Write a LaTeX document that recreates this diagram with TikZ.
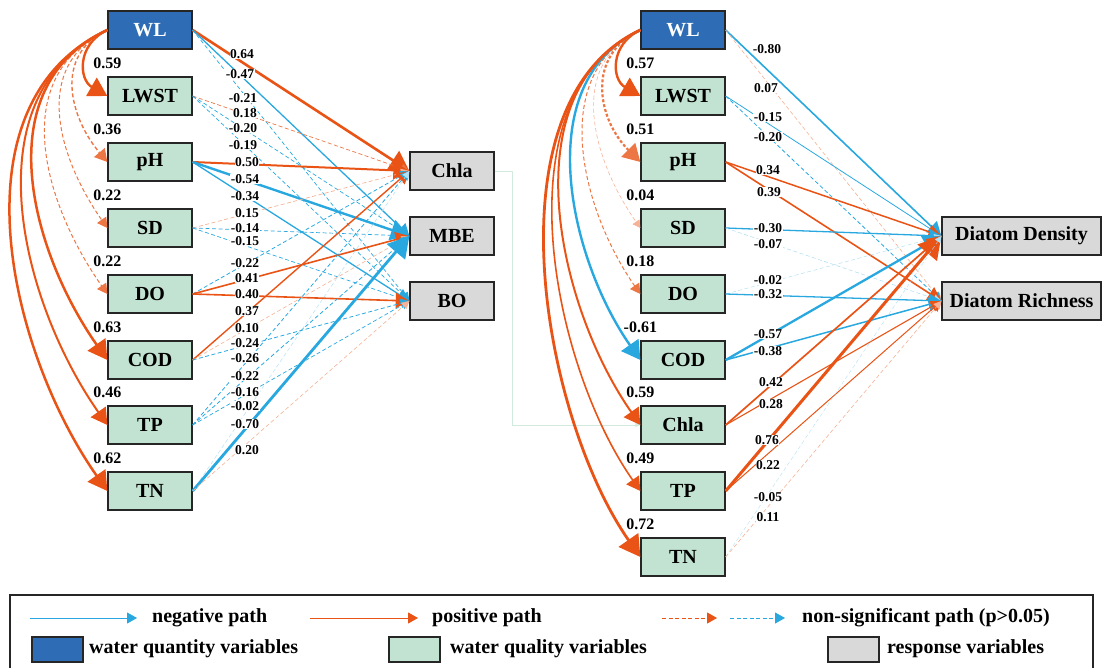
\documentclass[tikz,border=0pt]{standalone}
\usepackage{fontspec}
\setmainfont{Liberation Serif}
\usetikzlibrary{arrows.meta,positioning}
\definecolor{negblue}{RGB}{41,168,224}
\definecolor{posorange}{RGB}{233,84,22}
\definecolor{qtyblue}{RGB}{46,109,181}
\definecolor{qualgreen}{RGB}{194,227,209}
\definecolor{respgray}{RGB}{217,217,217}
\tikzset{
	var/.style={draw=black!85, line width=1.3pt, minimum width=84pt, minimum height=38pt, inner sep=0pt, font=\fontsize{20}{24}\selectfont\bfseries},
	qty/.style={var, fill=qtyblue, text=white},
	qual/.style={var, fill=qualgreen},
	resp/.style={var, fill=respgray},
	negpath/.style={draw=negblue, line width=#1, -{Triangle[length=4pt 6, width=4pt 7]}},
	pospath/.style={draw=posorange, line width=#1, -{Triangle[length=4pt 6, width=4pt 7]}},
	nsneg/.style={negpath=#1, dash pattern=on 4pt off 2.5pt},
	nspos/.style={pospath=#1, draw=posorange!80, dash pattern=on 4pt off 2.5pt},
	nsnegl/.style={nsneg=#1, draw=negblue!35},
	nsposl/.style={nspos=#1, draw=posorange!45},
	coef/.style={fill=white, inner sep=0.6pt, font=\fontsize{13.5}{14}\selectfont\bfseries},
	ccoef/.style={inner sep=0pt, font=\fontsize{16}{18}\selectfont\bfseries},
	legtext/.style={anchor=west, inner sep=0pt, font=\fontsize{20}{24}\selectfont\bfseries},
	legbox/.style={draw=black!85, line width=1.3pt, minimum width=51pt, minimum height=25pt}
}

\begin{document}
\begin{tikzpicture}[x=1pt, y=1pt]
	\useasboundingbox (0,0) rectangle (1103,-667);

	% left model
	\node[qty] (lWL) at (150,-30) {WL};
	\foreach \vname/\vy in {LWST/96,pH/162,SD/228,DO/294,COD/360,TP/425,TN/491}
		\node[qual] (l\vname) at (150,-\vy) {\vname};
	\node[resp] (lChla) at (452,-171) {Chla};
	\node[resp] (lMBE) at (452,-236) {MBE};
	\node[resp] (lBO) at (452,-301) {BO};

	% right model
	\node[qty] (rWL) at (683,-30) {WL};
	\foreach \vname/\vy in {LWST/96,pH/162,SD/228,DO/294,COD/360,Chla/425,TP/491,TN/557}
		\node[qual] (r\vname) at (683,-\vy) {\vname};
	\node[resp, minimum width=159pt] (rDen) at (1021.5,-236) {Diatom Density};
	\node[resp, minimum width=159pt] (rRic) at (1021.5,-301) {Diatom Richness};

	% link between the two Chla boxes
	\draw[draw=qualgreen!75, line width=0.6pt, -{Triangle[length=5pt, width=4pt]}] (lChla.east) -- ++(18,0) |- (rChla.west);

	% WL -> water quality, left
	\draw[pospath=2.4pt] (lWL.west) to[out=205, in=150, looseness=1.3] (lLWST.west);
	\draw[nspos=1.4pt] (lWL.west) to[out=205, in=130, looseness=1.15] (lpH.west);
	\draw[nspos=1pt] (lWL.west) to[out=205, in=125, looseness=1.1] (lSD.west);
	\draw[nspos=1pt] (lWL.west) to[out=205, in=125, looseness=1.08] (lDO.west);
	\draw[pospath=2.5pt] (lWL.west) to[out=205, in=125, looseness=1.04] (lCOD.west);
	\draw[pospath=2pt] (lWL.west) to[out=205, in=125, looseness=0.99] (lTP.west);
	\draw[pospath=2.5pt] (lWL.west) to[out=205, in=125, looseness=0.96] (lTN.west);

	% WL -> water quality, right
	\draw[pospath=2.4pt] (rWL.west) to[out=205, in=150, looseness=1.3] (rLWST.west);
	\draw[nspos=2.2pt, dash pattern=on 3pt off 2pt] (rWL.west) to[out=205, in=135, looseness=1.18] (rpH.west);
	\draw[nsposl=0.6pt] (rWL.west) to[out=205, in=125, looseness=1.07] (rSD.west);
	\draw[nspos=1pt] (rWL.west) to[out=205, in=125, looseness=1.0] (rDO.west);
	\draw[negpath=2.4pt] (rWL.west) to[out=205, in=125, looseness=0.96] (rCOD.west);
	\draw[pospath=2pt] (rWL.west) to[out=205, in=125, looseness=0.94] (rChla.west);
	\draw[pospath=1.6pt] (rWL.west) to[out=205, in=125, looseness=0.87] (rTP.west);
	\draw[pospath=2.8pt] (rWL.west) to[out=205, in=125, looseness=0.83] (rTN.west);

	% paths to Chla, MBE, BO
	\draw[pospath=2.6pt] (lWL.east) -- (lChla.west);
	\draw[negpath=1.3pt] (lWL.east) -- (lMBE.west);
	\draw[nsneg=0.7pt] (lWL.east) -- (lBO.west);
	\draw[nspos=0.7pt] (lLWST.east) -- (lChla.west);
	\draw[nsneg=0.7pt] (lLWST.east) -- (lMBE.west);
	\draw[nsneg=0.7pt] (lLWST.east) -- (lBO.west);
	\draw[pospath=2pt] (lpH.east) -- (lChla.west);
	\draw[negpath=2.4pt] (lpH.east) -- (lMBE.west);
	\draw[negpath=1.3pt] (lpH.east) -- (lBO.west);
	\draw[nsposl=0.7pt] (lSD.east) -- (lChla.west);
	\draw[nsneg=0.7pt] (lSD.east) -- (lMBE.west);
	\draw[nsneg=0.7pt] (lSD.east) -- (lBO.west);
	\draw[nsneg=0.8pt] (lDO.east) -- (lChla.west);
	\draw[pospath=1.6pt] (lDO.east) -- (lMBE.west);
	\draw[pospath=1.6pt] (lDO.east) -- (lBO.west);
	\draw[pospath=1.4pt] (lCOD.east) -- (lChla.west);
	\draw[nsposl=0.6pt] (lCOD.east) -- (lMBE.west);
	\draw[nsneg=0.8pt] (lCOD.east) -- (lBO.west);
	\draw[nsneg=0.8pt] (lTP.east) -- (lChla.west);
	\draw[nsneg=0.8pt] (lTP.east) -- (lMBE.west);
	\draw[nsneg=0.7pt] (lTP.east) -- (lBO.west);
	\draw[nsnegl=0.5pt] (lTN.east) -- (lChla.west);
	\draw[negpath=2.8pt] (lTN.east) -- (lMBE.west);
	\draw[nsposl=0.6pt] (lTN.east) -- (lBO.west);

	% paths to diatom density and richness
	\draw[negpath=1.6pt] (rWL.east) -- (rDen.west);
	\draw[nsposl=0.6pt] (rWL.east) -- (rRic.west);
	\draw[negpath=0.8pt] (rLWST.east) -- (rDen.west);
	\draw[nsneg=0.8pt] (rLWST.east) -- (rRic.west);
	\draw[pospath=1.5pt] (rpH.east) -- (rDen.west);
	\draw[pospath=1.6pt] (rpH.east) -- (rRic.west);
	\draw[negpath=1.3pt] (rSD.east) -- (rDen.west);
	\draw[nsnegl=0.6pt] (rSD.east) -- (rRic.west);
	\draw[nsnegl=0.5pt] (rDO.east) -- (rDen.west);
	\draw[negpath=1.3pt] (rDO.east) -- (rRic.west);
	\draw[negpath=2.3pt] (rCOD.east) -- (rDen.west);
	\draw[negpath=1.5pt] (rCOD.east) -- (rRic.west);
	\draw[pospath=1.7pt] (rChla.east) -- (rDen.west);
	\draw[pospath=1.1pt] (rChla.east) -- (rRic.west);
	\draw[pospath=3pt] (rTP.east) -- (rDen.west);
	\draw[pospath=1pt] (rTP.east) -- (rRic.west);
	\draw[nsnegl=0.4pt] (rTN.east) -- (rDen.west);
	\draw[nsposl=0.6pt] (rTN.east) -- (rRic.west);

	% coefficients of WL -> water quality
	\node[ccoef, above=7pt of lLWST.north west] (lc1) {0.59};
	\node[ccoef, above=7pt of lpH.north west] (lc2) {0.36};
	\node[ccoef, above=7pt of lSD.north west] (lc3) {0.22};
	\node[ccoef, above=7pt of lDO.north west] (lc4) {0.22};
	\node[ccoef, above=7pt of lCOD.north west] (lc5) {0.63};
	\node[ccoef, above=7pt of lTP.north west] (lc6) {0.46};
	\node[ccoef, above=7pt of lTN.north west] (lc7) {0.62};
	\node[ccoef, above=7pt of rLWST.north west] (rc1) {0.57};
	\node[ccoef, above=7pt of rpH.north west] (rc2) {0.51};
	\node[ccoef, above=7pt of rSD.north west] (rc3) {0.04};
	\node[ccoef, above=7pt of rDO.north west] (rc4) {0.18};
	\node[ccoef, above=7pt of rCOD.north west] (rc5) {-0.61};
	\node[ccoef, above=7pt of rChla.north west] (rc6) {0.59};
	\node[ccoef, above=7pt of rTP.north west] (rc7) {0.49};
	\node[ccoef, above=7pt of rTN.north west] (rc8) {0.72};

	% path coefficients
	\foreach \x/\y/\c [count=\i] in {242/54/0.64, 240/74/-0.47, 243/98/-0.21, 245/113/0.18,
			243/128/-0.20, 243/145/-0.19, 247/162/0.50, 245/179/-0.54, 245/196/-0.34,
			247/213/0.15, 245/228/-0.14, 245/241/-0.15, 245/263/-0.22, 247/278/0.41,
			247/294/0.40, 247/311/0.37, 247/328/0.10, 245/343/-0.24, 245/358/-0.26,
			245/376/-0.22, 245/392/-0.16, 245/406/-0.02, 245/424/-0.70, 247/450/0.20}
		\node[coef] (lp\i) at (\x,-\y) {\c};
	\foreach \x/\y/\c [count=\i] in {767/49/-0.80, 766/88/0.07, 768/117/-0.15, 768/137/-0.20,
			768/170/0.34, 769/192/0.39, 768/228/-0.30, 768/244/-0.07, 768/280/-0.02,
			768/294/-0.32, 768/334/-0.57, 768/351/-0.38, 771/382/0.42, 771/404/0.28,
			767/440/0.76, 768/465/0.22, 768/497/-0.05, 768/517/0.11}
		\node[coef] (rp\i) at (\x,-\y) {\c};

	% legend
	\draw[draw=black!85, line width=1.3pt] (10,-595) rectangle (1093,-675);
	\coordinate (ln1) at (30,-618);
	\coordinate (ln2) at (137,-618);
	\coordinate (lp1) at (310,-618);
	\coordinate (lp2) at (418,-618);
	\coordinate (lo1) at (662,-618);
	\coordinate (lo2) at (717,-618);
	\coordinate (lb1) at (730,-618);
	\coordinate (lb2) at (785,-618);
	\draw[negpath=1pt] (ln1) -- (ln2);
	\draw[pospath=1pt] (lp1) -- (lp2);
	\draw[nspos=1pt, draw=posorange] (lo1) -- (lo2);
	\draw[nsneg=1pt] (lb1) -- (lb2);
	\node[legtext] (tneg) at (152,-618) {negative path};
	\node[legtext] (tpos) at (432,-618) {positive path};
	\node[legtext] (tns) at (802,-618) {non-significant path (p>0.05)};
	\node[legbox, fill=qtyblue] (bqty) at (57.5,-649.5) {};
	\node[legtext] (tqty) at (89,-649) {water quantity variables};
	\node[legbox, fill=qualgreen] (bqual) at (414.5,-649.5) {};
	\node[legtext] (tqual) at (450,-649) {water quality variables};
	\node[legbox, fill=respgray] (bresp) at (853.5,-649.5) {};
	\node[legtext] (tresp) at (887,-649) {response variables};
\end{tikzpicture}
\end{document}
